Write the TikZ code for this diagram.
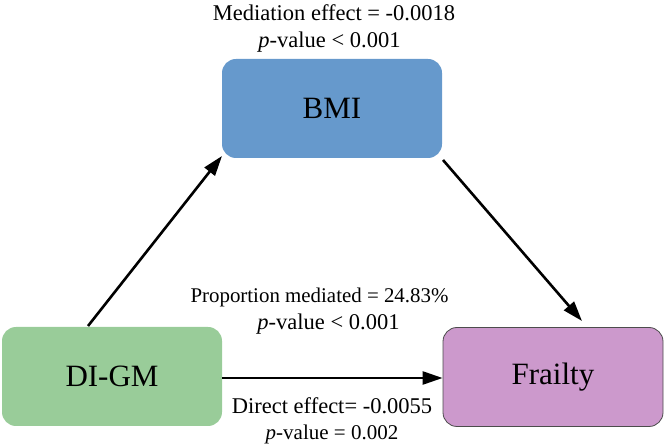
\documentclass[tikz,border=0pt]{standalone}
\usepackage{fontspec}
\setmainfont{Liberation Serif}
\usetikzlibrary{arrows.meta}
\definecolor{bmiblue}{HTML}{6699CC}
\definecolor{digreen}{HTML}{99CC99}
\definecolor{frpurple}{HTML}{CC99CC}
\tikzset{
  boxnode/.style={rounded corners=14pt, minimum width=220pt, minimum height=99pt, inner sep=0pt, font=\fontsize{31}{36}\selectfont},
  lab/.style={anchor=base, inner sep=0pt, font=\fontsize{22.5}{27}\selectfont},
  arr/.style={line width=2.6pt, -{Triangle[length=20pt,width=13pt]}}
}
\begin{document}
\begin{tikzpicture}[x=1pt,y=-1pt]
\useasboundingbox (0,0) rectangle (665,446);
\node[boxnode, fill=bmiblue] (bmi) at (332,108.5) {BMI};
\node[boxnode, fill=digreen] (dig) at (112,376.5) {DI-GM};
\node[boxnode, fill=frpurple, draw=black!70, line width=0.8pt] (fr) at (553,377) {Frailty};
\coordinate (a1) at (88,326);
\coordinate (a1t) at (222,156);
\coordinate (b1) at (443,160);
\coordinate (b1t) at (582,321);
\draw[arr] (a1) -- (a1t);
\draw[arr] (b1) -- (b1t);
\draw[arr] (dig.east |- 0,378) -- (fr.west |- 0,378);
\node[lab] (t1a) at (334,21) {Mediation effect = -0.0018};
\node[lab] (t1b) at (329.5,47.5) {\textit{p}-value < 0.001};
\node[lab, font=\fontsize{20.9}{27}\selectfont] (t2a) at (319.5,303) {Proportion mediated = 24.83\%};
\node[lab] (t2b) at (328.5,330) {\textit{p}-value < 0.001};
\node[lab] (t3a) at (332,414) {Direct effect= -0.0055};
\node[lab, font=\fontsize{21}{27}\selectfont] (t3b) at (332,440) {\textit{p}-value = 0.002};
\end{tikzpicture}
\end{document}
